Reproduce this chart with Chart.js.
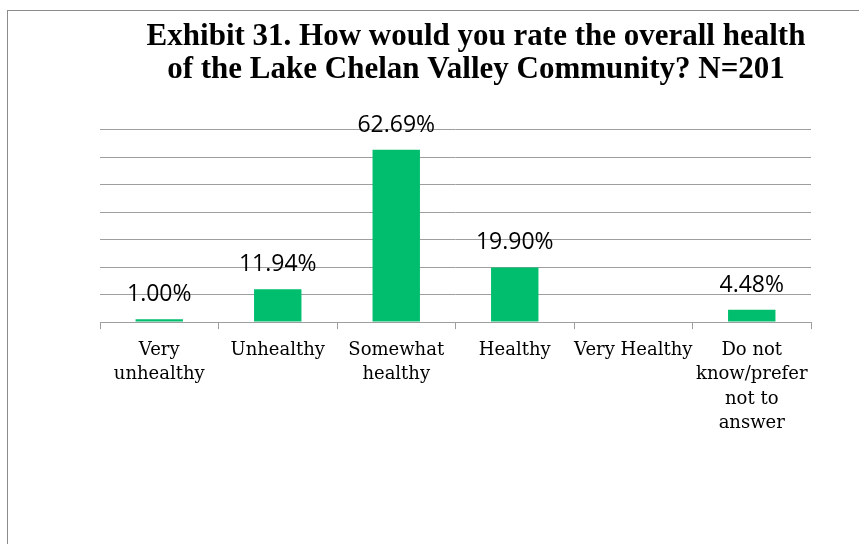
<!DOCTYPE html>
<html>
<head>
<meta charset="utf-8">
<script src="https://cdn.jsdelivr.net/npm/chart.js@4"></script>
<style>
  html, body { margin: 0; padding: 0; background: #fff; }
  #wrap { position: relative; width: 859px; height: 544px; overflow: hidden; }
  #frame { position: absolute; left: 7px; top: 10px; width: 900px; height: 600px;
           border-top: 1px solid #8c8c8c; border-left: 1px solid #8c8c8c; }
  #healthChart { position: absolute; left: 0; top: 0; }
</style>
</head>
<body>
<div id="wrap">
  <div id="frame"></div>
  <canvas id="healthChart" width="859" height="544"></canvas>
</div>
<script>
// answer categories, one array entry per line of the axis label
const categories = [
  ["Very", "unhealthy"],
  ["Unhealthy"],
  ["Somewhat", "healthy"],
  ["Healthy"],
  ["Very Healthy"],
  ["Do not", "know/prefer", "not to", "answer"]
];
// percent of respondents
const shares = [1.00, 11.94, 62.69, 19.90, 0, 4.48];
const titleLines = [
  "Exhibit 31. How would you rate the overall health",
  "of the Lake Chelan Valley Community? N=201"
];

const gridGray = "#9e9e9e";

// percent labels above each bar (skip empty bars)
const valueLabels = {
  id: "valueLabels",
  afterDatasetsDraw(chart) {
    const ctx = chart.ctx;
    const meta = chart.getDatasetMeta(0);
    ctx.save();
    ctx.font = '23px "Open Sans"';
    ctx.fillStyle = "#000";
    ctx.textAlign = "center";
    ctx.textBaseline = "alphabetic";
    meta.data.forEach((bar, i) => {
      const v = shares[i];
      if (!v) return;
      ctx.fillText(v.toFixed(2) + "%", bar.x, bar.y - 18);
    });
    ctx.restore();
  }
};

new Chart("healthChart", {
  type: "bar",
  data: {
    labels: categories,
    datasets: [{
      data: shares,
      backgroundColor: "#00be6e",
      borderWidth: 0,
      barPercentage: 0.4,
      categoryPercentage: 1
    }]
  },
  options: {
    responsive: false,
    animation: false,
    layout: { padding: { left: 100, right: 7, top: 0, bottom: 99 } },
    plugins: {
      legend: { display: false },
      tooltip: { enabled: false },
      title: {
        display: true,
        text: titleLines,
        color: "#000",
        font: { family: '"Liberation Serif"', size: 31, weight: "bold", lineHeight: 1.045 },
        padding: { top: 21, bottom: 44 }
      }
    },
    scales: {
      x: {
        grid: { drawOnChartArea: false, drawTicks: true, tickLength: 7, color: gridGray },
        border: { display: true, color: gridGray },
        ticks: {
          color: "#000",
          padding: 9,
          maxRotation: 0,
          autoSkip: false,
          font: { family: '"DejaVu Serif"', size: 18, lineHeight: 1.36 }
        }
      },
      y: {
        position: "right",
        min: 0,
        max: 70,
        ticks: { display: false, stepSize: 10 },
        grid: { drawTicks: false, color: gridGray },
        border: { display: false },
        afterFit(scale) { scale.width = 41; }
      }
    }
  },
  plugins: [valueLabels]
});
</script>
</body>
</html>
